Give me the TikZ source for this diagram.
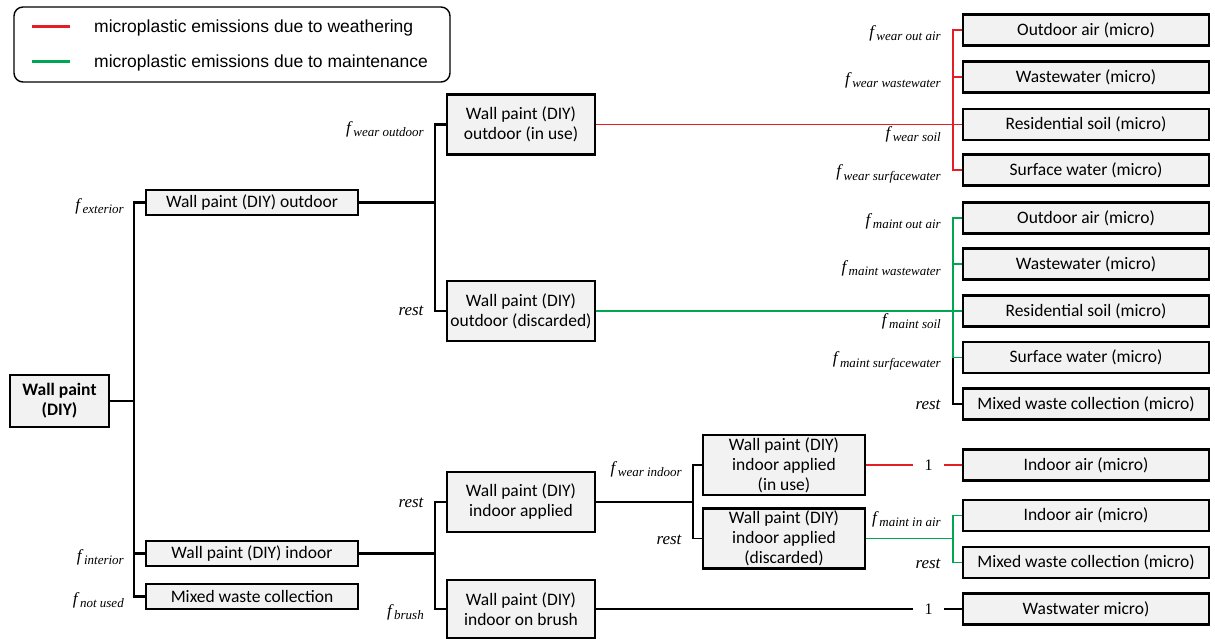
\documentclass[tikz,border=0pt]{standalone}
\usepackage{fontspec}
\setmainfont{Carlito}
\newfontfamily\legfont{Liberation Sans}
\newfontfamily\labfont{Liberation Serif}
\newcommand{\flab}[1]{\textit{f}\kern0.5pt\raisebox{-3.5pt}{\fontsize{13}{14}\selectfont\textit{#1}}}
\definecolor{wred}{RGB}{228,30,36}
\definecolor{wgreen}{RGB}{0,166,81}
\definecolor{boxfill}{RGB}{242,242,242}
\begin{document}
\begin{tikzpicture}[x=1pt,y=-1pt,
 box/.style={draw=black, line width=2.4pt, fill=boxfill, inner sep=0pt, align=center, font=\fontsize{17.5}{20}\selectfont},
 sbox/.style={box, minimum width=212pt, minimum height=25pt},
 mbox/.style={box, minimum width=148pt, minimum height=60pt},
 rbox/.style={box, minimum width=246pt, minimum height=31pt},
 conn/.style={line width=2.2pt, black},
 thin/.style={line width=1.3pt, black},
 wline/.style={line width=1.8pt, wred},
 mline/.style={line width=1.8pt, wgreen},
 lab/.style={anchor=east, inner sep=0pt, font=\labfont\fontsize{17}{18}\selectfont},
 one/.style={inner sep=0pt, minimum width=31pt, font=\labfont\fontsize{16}{18}\selectfont},
 legtext/.style={anchor=west, inner sep=0pt, font=\legfont\fontsize{17.5}{19}\selectfont},
]
\useasboundingbox (0,0) rectangle (1215,639);

% legend
\node[draw, rounded corners=9pt, line width=1.4pt, minimum width=436pt, minimum height=75pt, inner sep=0pt] (legend) at (232,44.5) {};
\draw[wred, line width=3pt] (32,27) -- (70,27);
\node[legtext] (legw) at (94,27.5) {microplastic emissions due to weathering};
\draw[wgreen, line width=3pt] (32,62) -- (70,62);
\node[legtext] (legm) at (94,62.5) {microplastic emissions due to maintenance};

% coordinates for trunks
\coordinate (t1) at (134,0);
\coordinate (t2) at (435,0);
\coordinate (t3) at (953,0);
\coordinate (t4) at (693,0);

% nodes
\node[box, minimum width=99pt, minimum height=52pt, font=\bfseries\fontsize{17.5}{20}\selectfont] (root) at (59.5,401) {Wall paint\\(DIY)};
\node[sbox] (ext) at (252,202.5) {Wall paint (DIY) outdoor};
\node[sbox] (int) at (252,553.5) {Wall paint (DIY) indoor};
\node[sbox] (nu) at (252,596.5) {Mixed waste collection};

\node[mbox] (inuse) at (521,124.5) {Wall paint (DIY)\\outdoor (in use)};
\node[mbox] (disc) at (521,311) {Wall paint (DIY)\\outdoor (discarded)};
\node[mbox] (app) at (521,502) {Wall paint (DIY)\\indoor applied};
\node[mbox, minimum height=58pt] (brush) at (521,609) {Wall paint (DIY)\\indoor on brush};

\node[box, minimum width=162pt, minimum height=60pt] (inuse2) at (784,465) {Wall paint (DIY)\\indoor applied\\(in use)};
\node[box, minimum width=162pt, minimum height=60pt] (disc2) at (784,538.5) {Wall paint (DIY)\\indoor applied\\(discarded)};

\node[rbox] (oa1) at (1086,30) {Outdoor air (micro)};
\node[rbox] (ww1) at (1086,77) {Wastewater (micro)};
\node[rbox] (rs1) at (1086,124.5) {Residential soil (micro)};
\node[rbox] (sw1) at (1086,170) {Surface water (micro)};
\node[rbox] (oa2) at (1086,218) {Outdoor air (micro)};
\node[rbox] (ww2) at (1086,264) {Wastewater (micro)};
\node[rbox] (rs2) at (1086,311) {Residential soil (micro)};
\node[rbox] (sw2) at (1086,357.5) {Surface water (micro)};
\node[rbox] (mw2) at (1086,404) {Mixed waste collection (micro)};
\node[rbox] (ia1) at (1086,465) {Indoor air (micro)};
\node[rbox] (ia2) at (1086,515.5) {Indoor air (micro)};
\node[rbox] (mw3) at (1086,562.5) {Mixed waste collection (micro)};
\node[rbox] (ww3) at (1086,609) {Wastwater micro)};

\node[one] (one1) at (928.5,465) {1};
\node[one] (one2) at (928.5,609) {1};

% first level
\draw[conn] (root.east) -- (root.east -| t1);
\draw[conn] (ext.west) -- (ext.west -| t1) -- (nu.west -| t1) -- (nu.west);
\draw[conn] (int.west) -- (int.west -| t1);

% outdoor
\draw[conn] (ext.east) -- (ext.east -| t2);
\draw[conn] (inuse.west) -- (inuse.west -| t2) -- (disc.west -| t2) -- (disc.west);

% weathering outdoor
\draw[wline] (inuse.east) -- (inuse.east -| t3);
\draw[wline] (oa1.west) -- (oa1.west -| t3) -- (sw1.west -| t3) -- (sw1.west);
\draw[wline] (ww1.west) -- (ww1.west -| t3);
\draw[wline] (rs1.west) -- (rs1.west -| t3);

% maintenance outdoor
\draw[mline] (disc.east) -- (disc.east -| t3);
\draw[mline] (oa2.west) -- (oa2.west -| t3) -- (sw2.west -| t3) -- (sw2.west);
\draw[mline] (ww2.west) -- (ww2.west -| t3);
\draw[mline] (rs2.west) -- (rs2.west -| t3);
\draw[thin] (sw2.west -| t3) -- (mw2.west -| t3) -- (mw2.west);

% indoor
\draw[conn] (int.east) -- (int.east -| t2);
\draw[conn] (app.west) -- (app.west -| t2) -- (brush.west -| t2) -- (brush.west);
\draw[thin] (app.east) -- (app.east -| t4);
\draw[thin] (inuse2.west) -- (inuse2.west -| t4) -- (disc2.west -| t4) -- (disc2.west);

\draw[wline] (inuse2.east) -- (one1.west);
\draw[wline] (one1.east) -- (ia1.west);
\draw[mline] (disc2.east) -- (disc2.east -| t3);
\draw[mline] (ia2.west) -- (ia2.west -| t3) -- (mw3.west -| t3) -- (mw3.west);
\draw[conn] (brush.east) -- (one2.west);
\draw[conn] (one2.east) -- (ww3.west);

% labels
\node[lab] (lext) at (124,206) {\flab{exterior}};
\node[lab] (lint) at (124,557) {\flab{interior}};
\node[lab] (lnu) at (124,600) {\flab{not used}};
\node[lab] (lwo) at (424,129) {\flab{wear outdoor}};
\node[lab] (lr1) at (424,311) {\textit{rest}};
\node[lab] (lr2) at (424,503) {\textit{rest}};
\node[lab] (lbr) at (424,612) {\flab{brush}};
\node[lab] (lwi) at (682,469) {\flab{wear indoor}};
\node[lab] (lr3) at (682,540) {\textit{rest}};

\node[lab] (l1) at (941,33) {\flab{wear out air}};
\node[lab] (l2) at (941,80) {\flab{wear wastewater}};
\node[lab] (l3) at (941,134) {\flab{wear soil}};
\node[lab] (l4) at (941,174) {\flab{wear surfacewater}};
\node[lab] (l5) at (941,221) {\flab{maint out air}};
\node[lab] (l6) at (941,268) {\flab{maint wastewater}};
\node[lab] (l7) at (941,321) {\flab{maint soil}};
\node[lab] (l8) at (941,361) {\flab{maint surfacewater}};
\node[lab] (l9) at (941,405) {\textit{rest}};
\node[lab] (l10) at (941,519) {\flab{maint in air}};
\node[lab] (l11) at (941,564) {\textit{rest}};
\end{tikzpicture}
\end{document}
